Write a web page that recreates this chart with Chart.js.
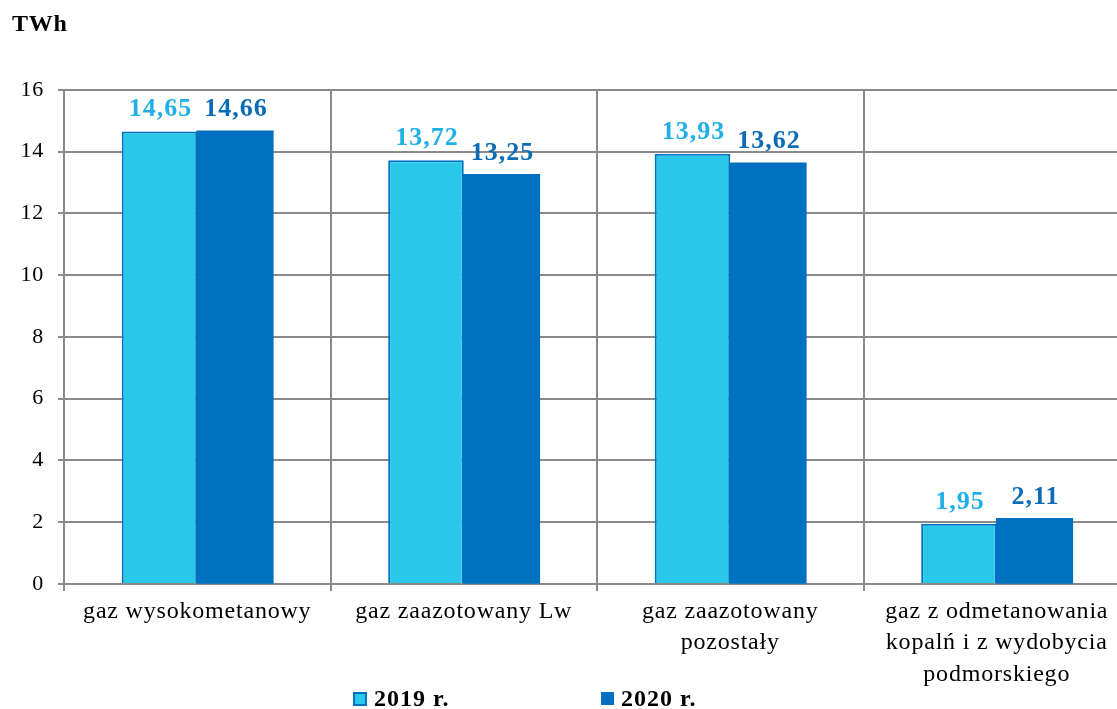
<!DOCTYPE html>
<html><head><meta charset="utf-8">
<script src="https://cdn.jsdelivr.net/npm/chart.js@4.4.1/dist/chart.umd.min.js"></script>
<style>
html,body{margin:0;padding:0;overflow:hidden;background:#fff}
#wrap{position:relative;width:1130px;height:709px}
</style></head>
<body><div id="wrap"><canvas id="c"></canvas></div>
<script>
const categories = [
  ['gaz wysokometanowy'],
  ['gaz zaazotowany Lw'],
  ['gaz zaazotowany', 'pozostały'],
  ['gaz z odmetanowania', 'kopalń i z wydobycia', 'podmorskiego']
];
const seriesNames = ['2019 r.', '2020 r.'];
const values2019 = [14.65, 13.72, 13.93, 1.95];
const values2020 = [14.66, 13.25, 13.62, 2.11];
const yTickValues = [0, 2, 4, 6, 8, 10, 12, 14, 16];
const unitLabel = 'TWh';

const SERIF = '"Liberation Serif", "Times New Roman", serif';
const GRID = '#8a8a8a';
const SP = '0.8px';
const fmt = v => v.toFixed(2).replace('.', ',');

const spacing = {
  id: 'spacing',
  beforeLayout(chart) { chart.ctx.letterSpacing = SP; },
  beforeDraw(chart) { chart.ctx.letterSpacing = SP; }
};

const valueLabels = {
  id: 'valueLabels',
  afterDatasetsDraw(chart) {
    const ctx = chart.ctx;
    chart.data.datasets.forEach((ds, di) => {
      const meta = chart.getDatasetMeta(di);
      meta.data.forEach((bar, i) => {
        ctx.save();
        ctx.letterSpacing = '1px';
        ctx.font = 'bold 26px ' + SERIF;
        ctx.fillStyle = ds.labelColor;
        ctx.textAlign = 'center';
        ctx.textBaseline = 'alphabetic';
        ctx.fillText(fmt(ds.data[i]), bar.x + 1, bar.y - 15);
        ctx.restore();
      });
    });
  }
};

const bottomLegend = {
  id: 'bottomLegend',
  afterDraw(chart) {
    const ctx = chart.ctx;
    const slots = [{x: 353, y: 692, s: 14}, {x: 601, y: 692, s: 13}];
    chart.data.datasets.forEach((ds, i) => {
      const p = slots[i];
      ctx.save();
      ctx.fillStyle = ds.backgroundColor;
      ctx.fillRect(p.x, p.y, p.s, p.s);
      ctx.strokeStyle = ds.borderColor;
      ctx.lineWidth = 2;
      ctx.strokeRect(p.x + 1, p.y + 1, p.s - 2, p.s - 2);
      ctx.letterSpacing = '1px';
      ctx.font = 'bold 24px ' + SERIF;
      ctx.fillStyle = '#000';
      ctx.textAlign = 'left';
      ctx.textBaseline = 'alphabetic';
      ctx.fillText(ds.label, p.x + p.s + 7, 706);
      ctx.restore();
    });
  }
};

new Chart(document.getElementById('c'), {
  type: 'bar',
  data: {
    labels: categories,
    datasets: [
      { label: seriesNames[0], data: values2019, backgroundColor: '#2AC8E8', borderColor: '#0070C0',
        borderWidth: 2, inflateAmount: 0, labelColor: '#1FB0E8', categoryPercentage: 0.567, barPercentage: 1.0 },
      { label: seriesNames[1], data: values2020, backgroundColor: '#0070C0', borderColor: '#0070C0',
        borderWidth: 0, inflateAmount: 0.8, labelColor: '#0B6CB6', categoryPercentage: 0.567, barPercentage: 1.0 }
    ]
  },
  options: {
    responsive: true,
    maintainAspectRatio: false,
    animation: false,
    layout: { padding: { left: 12, right: 0, top: 0, bottom: 0 } },
    plugins: {
      legend: { display: false },
      tooltip: { enabled: false },
      title: {
        display: true, text: unitLabel, align: 'start', color: '#000',
        font: { family: SERIF, size: 24, weight: 'bold', lineHeight: 1.2 },
        padding: { top: 10, bottom: 51 }
      }
    },
    scales: {
      x: {
        grid: { display: true, offset: true, color: GRID, lineWidth: 2, drawTicks: true, tickLength: 7 },
        border: { display: true, color: GRID, width: 2 },
        ticks: { color: '#000', font: { family: SERIF, size: 24, lineHeight: 1.31 }, padding: 5, maxRotation: 0, autoSkip: false },
        afterFit(s) { s.height = 125; }
      },
      y: {
        min: 0, max: 16,
        afterBuildTicks(s) { s.ticks = yTickValues.map(v => ({ value: v })); },
        grid: { color: GRID, lineWidth: 2, drawTicks: true, tickLength: 6 },
        border: { display: true, color: GRID, width: 2 },
        ticks: { color: '#000', font: { family: SERIF, size: 22 }, padding: 14 },
        afterFit(s) { s.width = 52; }
      }
    }
  },
  plugins: [spacing, valueLabels, bottomLegend]
});
</script>
</body></html>
